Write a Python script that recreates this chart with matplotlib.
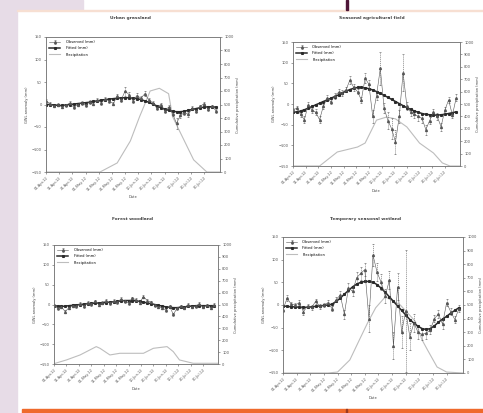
import numpy as np
import matplotlib
matplotlib.use("Agg")
import matplotlib.pyplot as plt
from matplotlib.patches import Rectangle

# ---------------- data ----------------
obs_days = [0, 3, 6, 9, 12, 15, 18, 21, 24, 27, 30, 33, 36, 39, 42, 45, 48, 51, 54, 57, 60, 63,
            66, 69, 72, 75, 78, 81, 84, 87, 90, 93, 96, 99, 102, 105, 108, 111, 114, 117, 120, 123, 126, 129]
tick_days = [0, 10, 20, 30, 40, 50, 60, 70, 80, 90, 100, 110, 120]
tick_labels = ["01-Apr-12", "11-Apr-12", "21-Apr-12", "01-May-12", "11-May-12", "21-May-12",
               "31-May-12", "10-Jun-12", "20-Jun-12", "30-Jun-12", "10-Jul-12", "20-Jul-12", "30-Jul-12"]

titles = ["Urban grassland", "Seasonal agricultural field", "Forest woodland", "Temporary seasonal wetland"]

# panel 1 (top left)
obs_tl = [8, 2, -3, 0, -5, -2, 3, -6, 0, 4, -2, 6, 2, 10, 4, 12, 8, 2, 18, 10, 30, 22,
          8, 20, 14, 24, 10, 4, -8, 0, -14, -6, -20, -42, -24, -18, -22, -8, -14, -4, 2, -10, -4, -14]
err_tl = [4, 3, 3, 4, 3, 3, 4, 3, 3, 4, 3, 4, 3, 4, 4, 4, 4, 3, 5, 4, 10, 6,
          4, 5, 4, 5, 4, 4, 5, 4, 5, 4, 6, 12, 6, 5, 5, 4, 4, 4, 3, 4, 3, 4]
fit_tl = [0, 0, -1, -2, -2, -1, 0, 1, 2, 3, 4, 5, 7, 8, 10, 11, 12, 13, 14, 15, 15, 15,
          14, 13, 11, 8, 5, 1, -3, -7, -10, -13, -15, -16, -16, -15, -13, -11, -9, -7, -6, -5, -5, -6]
rain_days_tl = [0, 41, 54, 64, 71, 74, 79, 86, 93, 96, 102, 112, 122, 132]
rain_tl = [0, 0, 67, 230, 410, 480, 600, 620, 580, 410, 290, 90, 0, 0]

# panel 2 (top right)
obs_tr = [-15, -10, -25, -38, -2, -15, -20, -38, -5, 14, 5, 20, 28, 27, 35, 58, 40, 30, 10, 62, 48, -30,
          20, 86, -10, -40, -60, -92, -30, 76, -5, -20, -25, -30, -35, -62, -40, -20, -30, -55, -15, 10, -27, 15]
err_tr = [6, 6, 7, 8, 6, 6, 7, 8, 6, 7, 6, 7, 8, 7, 7, 10, 8, 7, 8, 12, 10, 15,
          10, 40, 12, 20, 25, 30, 15, 45, 10, 10, 10, 10, 10, 12, 8, 8, 8, 10, 8, 8, 8, 8]
fit_tr = [-20, -19, -17, -14, -10, -6, -2, 2, 6, 10, 14, 18, 22, 27, 31, 35, 38, 40, 40, 39, 37, 34,
          30, 26, 21, 16, 11, 6, 1, -4, -9, -13, -17, -20, -23, -25, -26, -27, -27, -26, -25, -23, -21, -19]
rain_days_tr = [0, 21, 35, 51, 57, 66, 74, 81, 90, 100, 111, 118, 124, 132]
rain_tr = [0, 0, 113, 153, 185, 370, 395, 380, 315, 185, 105, 25, 0, 0]

# panel 3 (bottom left)
obs_bl = [-2, -10, -6, -18, -8, -3, -5, 2, -4, 5, 1, 8, 0, 5, 10, 3, 9, 6, 14, 8, 4, 16,
          12, 5, 20, 10, 6, -2, -6, -8, -14, -4, -25, -10, -4, -8, 0, -6, -4, 2, -6, -2, -8, 0]
err_bl = [4] * 44
fit_bl = [-3, -4, -5, -4, -3, -2, -1, 0, 1, 2, 3, 3, 4, 4, 5, 6, 7, 8, 9, 10, 10, 10,
          9, 8, 6, 4, 2, 0, -2, -4, -6, -7, -8, -8, -7, -6, -5, -4, -3, -3, -3, -3, -3, -3]
rain_days_bl = [0, 1, 10, 21, 34, 37, 45, 53, 72, 80, 91, 96, 101, 112, 132]
rain_bl = [0, 6, 34, 76, 146, 132, 76, 90, 90, 132, 146, 104, 34, 6, 6]

# panel 4 (bottom right)
obs_br = [-10, 15, 2, 0, 5, -15, -2, -5, 8, -3, 0, 5, -8, 12, 22, -20, 38, 30, 60, 70, 78, -30,
          110, 72, 50, 20, 55, -90, 40, -60, -13, -70, -40, -60, -65, -62, -55, -30, -20, -42, 5, -15, -32, -8]
err_br = [6, 6, 5, 5, 6, 6, 5, 5, 6, 5, 5, 5, 6, 6, 8, 10, 10, 10, 12, 14, 15, 30,
          25, 20, 18, 15, 20, 30, 30, 35, 135, 30, 20, 15, 12, 12, 10, 8, 8, 10, 8, 8, 8, 8]
fit_br = [-2, -3, -4, -4, -5, -5, -5, -4, -3, -2, -1, 0, 2, 8, 15, 24, 32, 40, 46, 50, 52, 52,
          50, 45, 37, 28, 18, 8, -2, -12, -22, -32, -40, -47, -52, -54, -52, -46, -38, -31, -25, -18, -12, -6]
rain_days_br = [0, 33, 40, 49, 56, 62, 68, 75, 86, 97, 102, 106, 113, 120, 132]
rain_br = [0, 0, 7, 96, 243, 368, 480, 560, 500, 380, 243, 169, 44, 7, 0]

panels = [
    (titles[0], obs_tl, err_tl, fit_tl, rain_days_tl, rain_tl),
    (titles[1], obs_tr, err_tr, fit_tr, rain_days_tr, rain_tr),
    (titles[2], obs_bl, err_bl, fit_bl, rain_days_bl, rain_bl),
    (titles[3], obs_br, err_br, fit_br, rain_days_br, rain_br),
]

# ---------------- layout ----------------
W, H = 483, 413
fig = plt.figure(figsize=(W / 100, H / 100), dpi=100)
fig.patch.set_facecolor("white")

def px_rect(x0, y0, x1, y1):
    return [x0 / W, (H - y1) / H, (x1 - x0) / W, (y1 - y0) / H]

lav = "#e7dce7"
fig.patches.append(Rectangle((0, 0), 17 / W, 1, transform=fig.transFigure, color=lav, zorder=0))
fig.patches.append(Rectangle((0, (H - 10) / H), 83 / W, 10 / H, transform=fig.transFigure, color=lav, zorder=0))
fig.patches.append(Rectangle((17 / W, (H - 10.7) / H), (W - 17) / W, 0.8 / H, transform=fig.transFigure,
                             color="#f7dfd2", zorder=0))
fig.patches.append(Rectangle((22 / W, 0), (W - 22) / W, 4 / H, transform=fig.transFigure,
                             color="#ef6a2c", zorder=0))
fig.patches.append(Rectangle((346 / W, (H - 10) / H), 2 / W, 10 / H, transform=fig.transFigure,
                             color="#4e1638", zorder=1))
fig.patches.append(Rectangle((346 / W, 0), 1 / W, 4 / H, transform=fig.transFigure,
                             color="#9a3a20", zorder=1))

rects = [px_rect(46, 37, 220, 172), px_rect(293, 42, 460, 166),
         px_rect(54, 245, 218, 364), px_rect(283, 237, 463, 373)]
title_pos = [(130, 18), (372, 18), (133, 219), (365, 219)]

fs = 2.6
for (title, obs, err, fit, rdays, rain), rect, tpos in zip(panels, rects, title_pos):
    ax = fig.add_axes(rect)
    ax2 = ax.twinx()
    ax.set_zorder(ax2.get_zorder() + 1)
    ax.patch.set_visible(False)

    l3, = ax2.plot(rdays, rain, color="#bdbdbd", lw=0.8, label="Precipitation")
    ax2.set_ylim(0, 1000)
    ax2.set_yticks(np.arange(0, 1001, 100))

    eb = ax.errorbar(obs_days, obs, yerr=err, fmt="-^", color="#555555", ms=1.4, lw=0.4,
                     elinewidth=0.4, capsize=0.8, capthick=0.4, label="Observed (mm)")
    eb[-1][0].set_linestyle((0, (2, 1.5)))
    l2, = ax.plot(obs_days, fit, "-s", color="#2a2a2a", lw=1.1, ms=1.2, label="Fitted (mm)")
    ax.set_ylim(-150, 150)
    ax.set_yticks(np.arange(-150, 151, 50))
    ax.set_xlim(0, 132)
    ax.set_xticks(tick_days)
    ax.set_xticklabels(tick_labels, rotation=45, ha="right", rotation_mode="anchor")

    for a in (ax, ax2):
        a.tick_params(labelsize=fs, length=1.5, width=0.4, pad=1.5, colors="#555555")
        for s in a.spines.values():
            s.set_linewidth(0.5)
            s.set_color("#777777")

    ax.set_xlabel("Date", fontsize=fs, color="#444444", labelpad=2)
    ax.set_ylabel("GWL anomaly (mm)", fontsize=fs, color="#444444", labelpad=2)
    ax2.set_ylabel("Cumulative precipitation (mm)", fontsize=fs, color="#444444", labelpad=2)

    ax.legend([eb, l2, l3], ["Observed (mm)", "Fitted (mm)", "Precipitation"], loc="upper left",
              fontsize=fs, frameon=False, handlelength=3, borderpad=0.4, labelspacing=0.6,
              handletextpad=1.5)

    fig.text(tpos[0] / W, 1 - tpos[1] / H, title, fontsize=3.2, color="#444444",
             ha="center", va="center", fontweight="bold")

fig.savefig("out.png", dpi=100)
